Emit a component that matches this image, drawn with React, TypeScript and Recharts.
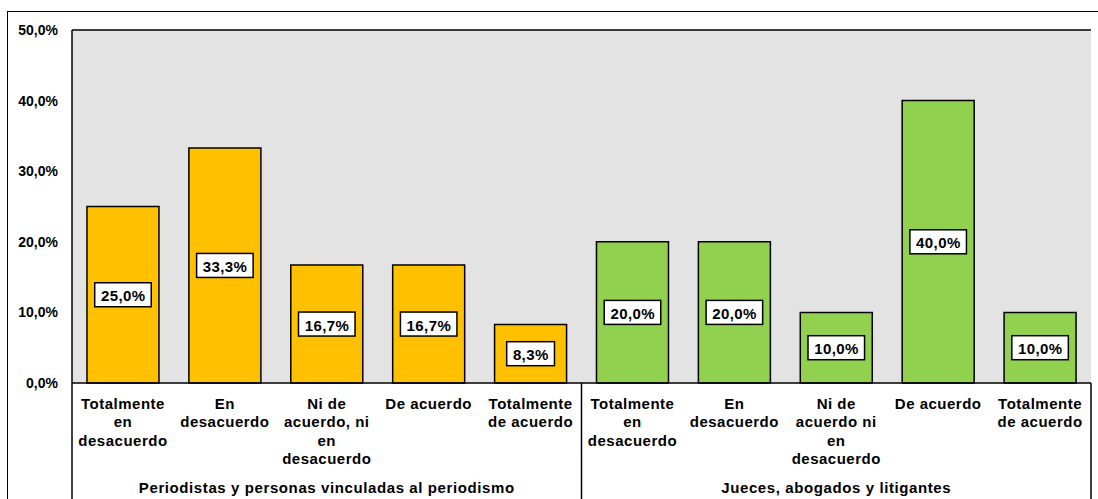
import { Bar, BarChart, CartesianGrid, Cell, LabelList, ReferenceLine, XAxis, YAxis } from 'recharts';

const categoryLines: string[][] = [
  ['Totalmente', 'en', 'desacuerdo'],
  ['En', 'desacuerdo'],
  ['Ni de', 'acuerdo, ni', 'en', 'desacuerdo'],
  ['De acuerdo'],
  ['Totalmente', 'de acuerdo'],
  ['Totalmente', 'en', 'desacuerdo'],
  ['En', 'desacuerdo'],
  ['Ni de', 'acuerdo ni', 'en', 'desacuerdo'],
  ['De acuerdo'],
  ['Totalmente', 'de acuerdo'],
];
const values = [25.0, 33.3, 16.7, 16.7, 8.3, 20.0, 20.0, 10.0, 40.0, 10.0];
const groupOf = [0, 0, 0, 0, 0, 1, 1, 1, 1, 1];
const groupNames = ['Periodistas y personas vinculadas al periodismo', 'Jueces, abogados y litigantes'];
const yTicks = [0, 10, 20, 30, 40, 50];

const GROUP_COLORS = ['#FFC000', '#92D050'];
const PLOT_BG = '#e3e3e3';
const FONT = '"Liberation Sans", Arial, sans-serif';

const W = 1098;
const H = 499;
const PLOT_LEFT = 72;
const PLOT_RIGHT = 1091;
const PLOT_TOP = 30;
const PLOT_BOTTOM = 383;
const BAND = (PLOT_RIGHT - PLOT_LEFT) / values.length;

const data = values.map((v, i) => ({ key: `c${i}`, value: v, group: groupOf[i] }));

const fmt = (v: number) => `${v.toFixed(1).replace('.', ',')}%`;

const textWidth = (s: string, size: number, spacing: number) => {
  let w = 0;
  for (const ch of s) {
    if (ch === ',') w += 0.278;
    else if (ch === '%') w += 0.889;
    else w += 0.556;
  }
  return w * size + spacing * s.length;
};

const CategoryTick = (props: any) => {
  const { x, payload } = props;
  const i = payload.index as number;
  const lines = categoryLines[i] ?? [];
  const seps: number[] = [];
  if (i === 0 || i === 5) seps.push(x - BAND / 2);
  if (i === values.length - 1) seps.push(x + BAND / 2);
  return (
    <g>
      {lines.map((line, k) => (
        <text
          key={k}
          x={x}
          y={PLOT_BOTTOM + 20 + k * 18.5}
          textAnchor="middle"
          dominantBaseline="central"
          fontFamily={FONT}
          fontWeight="bold"
          fontSize={15}
          letterSpacing={0.5}
          fill="#000"
        >
          {line}
        </text>
      ))}
      {(i === 2 || i === 7) && (
        <text
          x={x}
          y={PLOT_BOTTOM + 104}
          textAnchor="middle"
          dominantBaseline="central"
          fontFamily={FONT}
          fontWeight="bold"
          fontSize={15}
          letterSpacing={0.6}
          fill="#000"
        >
          {groupNames[groupOf[i]]}
        </text>
      )}
      {seps.map((sx, k) => (
        <line key={`s${k}`} x1={sx} x2={sx} y1={PLOT_BOTTOM} y2={H} stroke="#000" strokeWidth={1.5} />
      ))}
    </g>
  );
};

const ValueTick = (props: any) => {
  const { y, payload } = props;
  return (
    <text
      x={PLOT_LEFT - 14}
      y={y}
      textAnchor="end"
      dominantBaseline="central"
      fontFamily={FONT}
      fontWeight="bold"
      fontSize={14}
      fill="#000"
    >
      {fmt(payload.value)}
    </text>
  );
};

const BoxLabel = (props: any) => {
  const { x, y, width, height, value } = props;
  const label = fmt(Number(value));
  const bw = textWidth(label, 15, 0.4) + 12;
  const bh = 24;
  const cx = x + width / 2;
  const cy = y + height / 2;
  return (
    <g>
      <rect x={cx - bw / 2} y={cy - bh / 2} width={bw} height={bh} fill="#fff" stroke="#000" strokeWidth={1.5} />
      <text
        x={cx + 0.2}
        y={cy + 1}
        textAnchor="middle"
        dominantBaseline="central"
        fontFamily={FONT}
        fontWeight="bold"
        fontSize={15}
        letterSpacing={0.4}
        fill="#000"
      >
        {label}
      </text>
    </g>
  );
};

export default function App() {
  return (
    <div style={{ position: 'fixed', left: 0, top: 0, width: W, height: H, background: '#fff', overflow: 'hidden' }}>
      <div
        style={{
          position: 'absolute',
          left: 7,
          top: 11,
          width: W - 7,
          height: H - 11,
          borderLeft: '1.5px solid #000',
          borderTop: '1.5px solid #000',
          boxSizing: 'border-box',
        }}
      />
      <div style={{ position: 'absolute', left: 0, top: 0 }}>
        <BarChart
          width={W}
          height={H}
          data={data}
          margin={{ top: PLOT_TOP, right: W - PLOT_RIGHT, bottom: 0, left: 0 }}
          barCategoryGap="14.7%"
        >
          <CartesianGrid horizontal={false} vertical={false} fill={PLOT_BG} />
          <XAxis
            dataKey="key"
            height={H - PLOT_BOTTOM}
            tickLine={false}
            axisLine={{ stroke: '#000', strokeWidth: 1.5 }}
            tick={<CategoryTick />}
            interval={0}
          />
          <YAxis
            yAxisId="left"
            width={PLOT_LEFT}
            domain={[0, 50]}
            ticks={yTicks}
            tickLine={false}
            axisLine={{ stroke: '#000', strokeWidth: 1.5 }}
            tick={<ValueTick />}
          />
          <YAxis
            yAxisId="right"
            orientation="right"
            width={0}
            domain={[0, 50]}
            tick={false}
            tickLine={false}
            axisLine={{ stroke: '#000', strokeWidth: 1.5 }}
          />
          <ReferenceLine yAxisId="left" y={50} stroke="#000" strokeWidth={1.5} />
          <Bar yAxisId="left" dataKey="value" stroke="#000" strokeWidth={1.5} isAnimationActive={false}>
            {data.map((d) => (
              <Cell key={d.key} fill={GROUP_COLORS[d.group]} />
            ))}
            <LabelList dataKey="value" content={<BoxLabel />} />
          </Bar>
        </BarChart>
      </div>
    </div>
  );
}
